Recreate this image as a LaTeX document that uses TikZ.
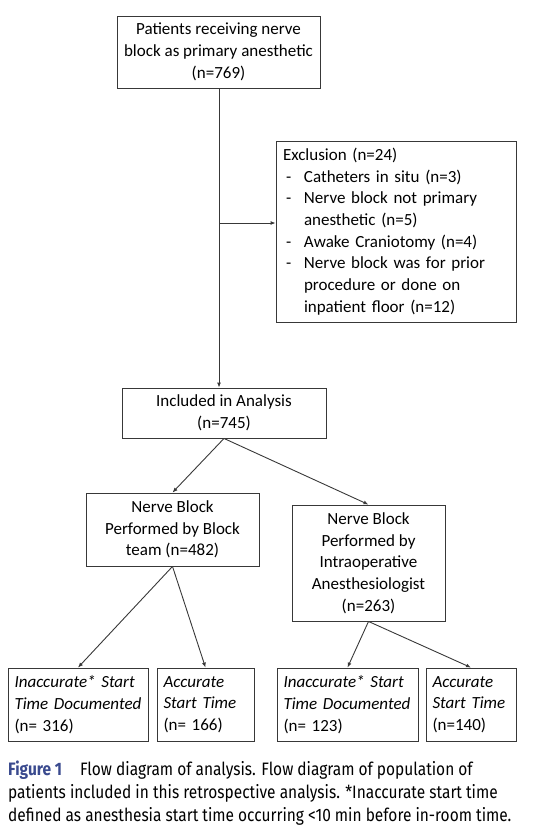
\documentclass[tikz,border=0pt]{standalone}
\usepackage{fontspec}
\setmainfont{Carlito}
\newfontfamily\capfont[FakeStretch=0.86]{Fira Sans}
\usetikzlibrary{arrows.meta}

\definecolor{figblue}{HTML}{3A4A8E}
\definecolor{linegray}{HTML}{383838}
\newcommand{\exdash}{\makebox[21pt][l]{\hspace{3pt}-}}
\newcommand{\exgap}{\hspace*{21pt}}

\tikzset{
  box/.style={draw=linegray, line width=0.9pt, inner sep=0pt, align=center,
    font=\fontsize{17}{21.7}\selectfont},
  leftbox/.style={box, align=left, inner xsep=6.5pt},
  arr/.style={draw=linegray, line width=0.9pt, -{Latex[length=5pt,width=4pt]}},
  capline/.style={anchor=base west, inner sep=0pt, font=\capfont\fontsize{18}{23}\selectfont}
}

\begin{document}
\begin{tikzpicture}[x=1pt,y=-1pt]
  \useasboundingbox (0,0) rectangle (542,838);
  % boxes
  \node [box, minimum width=203pt, minimum height=72pt] (patients) at (218.5,52)
    {Patients receiving nerve\\block as primary anesthetic\\(n=769)};
  \node [leftbox, text width=226pt, minimum height=181pt, inner xsep=7pt] (excl) at (396,231.5)
    {Exclusion (n=24)\\
     \exdash Catheters in situ (n=3)\\
     \exdash Nerve block not primary\\
     \exgap anesthetic (n=5)\\
     \exdash Awake Craniotomy (n=4)\\
     \exdash Nerve block was for prior\\
     \exgap procedure or done on\\
     \exgap inpatient floor (n=12)};
  \node [box, minimum width=204pt, minimum height=50pt] (incl) at (224,413)
    {Included in Analysis\\(n=745)};
  \node [box, minimum width=173pt, minimum height=73pt] (blockteam) at (172.5,529.5)
    {Nerve Block\\Performed by Block\\team (n=482)};
  \node [box, minimum width=153pt, minimum height=116pt] (intraop) at (368.5,563)
    {Nerve Block\\Performed by\\Intraoperative\\Anesthesiologist\\(n=263)};
  \node [leftbox, text width=127pt, minimum height=73pt] (btinacc) at (78,704.5)
    {\textit{Inaccurate* Start}\\\textit{Time Documented}\\(n= 316)};
  \node [leftbox, text width=84pt, minimum height=73pt] (btacc) at (205.5,704.5)
    {\textit{Accurate}\\\textit{Start Time}\\(n= 166)};
  \node [leftbox, text width=128pt, minimum height=73pt] (ioinacc) at (347.5,704.5)
    {\textit{Inaccurate* Start}\\\textit{Time Documented}\\(n= 123)};
  \node [leftbox, text width=77pt, minimum height=73pt] (ioacc) at (471,704.5)
    {\textit{Accurate}\\\textit{Start Time}\\(n=140)};
  % connectors
  \coordinate (split) at (219,223);
  \draw [arr] (patients.south -| split) -- (incl.north -| split);
  \draw [arr] (split) -- (split -| excl.west);
  \draw [arr] (incl.south) -- (blockteam.north);
  \draw [arr] (incl.south) -- (intraop.north);
  \draw [arr] (blockteam.south) -- (btinacc.north);
  \draw [arr] (blockteam.south) -- (btacc.north);
  \draw [arr] (intraop.south) -- (ioinacc.north);
  \draw [arr] (intraop.south) -- (ioacc.north);
  % caption
  \node [capline] (cap1) at (8,775)
    {\textcolor{figblue}{\bfseries Figure 1}\hspace{18pt}Flow diagram of analysis. Flow diagram of population of};
  \node [capline] (cap2) at (8,798)
    {patients included in this retrospective analysis. *Inaccurate start time};
  \node [capline] (cap3) at (8,821)
    {defined as anesthesia start time occurring <10 min before in-room time.};
\end{tikzpicture}
\end{document}
